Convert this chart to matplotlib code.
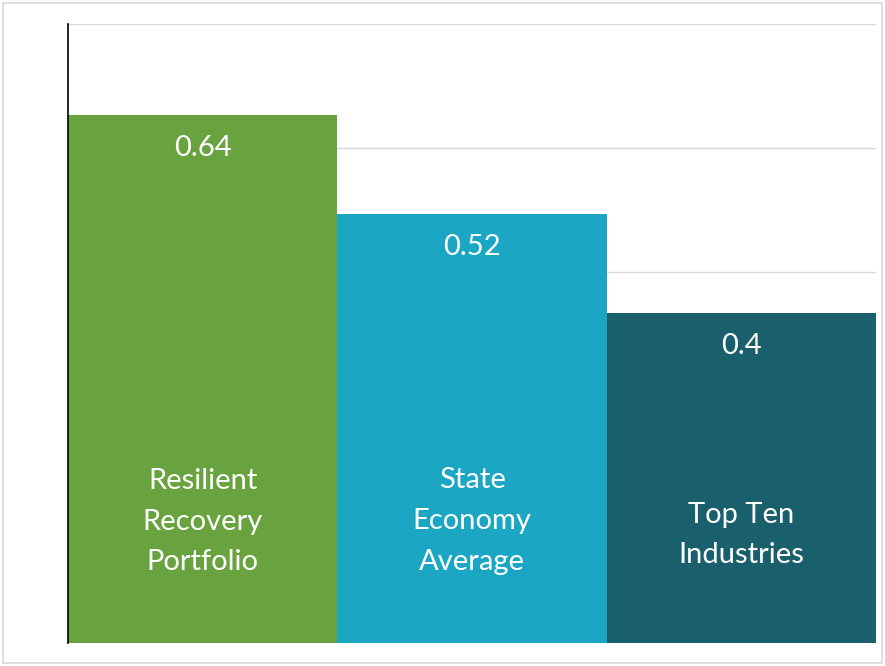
import matplotlib
matplotlib.use("Agg")
import matplotlib.pyplot as plt
from matplotlib.patches import Rectangle

# ============================================================
# 数据
# ============================================================
categories = ["Resilient\nRecovery\nPortfolio", "State\nEconomy\nAverage", "Top Ten\nIndustries"]
values = [0.64, 0.52, 0.4]
colors = ["#69A340", "#1BA6C4", "#1A5F6C"]
label_y = [0.147, 0.148, 0.131]   # 类别标签中心位置

plt.rcParams["font.family"] = ["Lato", "DejaVu Sans"]

fig = plt.figure(figsize=(8.85, 6.66), dpi=100)
ax = fig.add_axes([68 / 885, 1 - 643 / 666, (876 - 68) / 885, (643 - 24) / 666])

# 外框
fig.patches.append(Rectangle((3 / 885, 3 / 666), 879 / 885, 660 / 666,
                             transform=fig.transFigure, fill=False,
                             edgecolor="#D9D9D9", linewidth=1.2))

x = range(len(values))
ax.bar(x, values, width=1.0, color=colors, zorder=2)

for i, v in enumerate(values):
    ax.text(i, v - 0.04, f"{v:g}", ha="center", va="center",
            color="white", fontsize=21, zorder=3)
    ax.text(i, label_y[i], categories[i], ha="center", va="center",
            color="white", fontsize=21, linespacing=1.7, zorder=3)

ax.set_xlim(-0.5, 2.5)
ax.set_ylim(0, 0.75)
ax.set_yticks([0.15, 0.3, 0.45, 0.6, 0.75])
ax.yaxis.grid(True, color="#D9D9D9", linewidth=1, zorder=0)
ax.set_axisbelow(True)
ax.tick_params(left=False, bottom=False, labelleft=False, labelbottom=False)
for s in ["top", "right", "bottom"]:
    ax.spines[s].set_visible(False)
ax.spines["left"].set_color("black")
ax.spines["left"].set_linewidth(1.2)

fig.savefig("out.png", dpi=100)
